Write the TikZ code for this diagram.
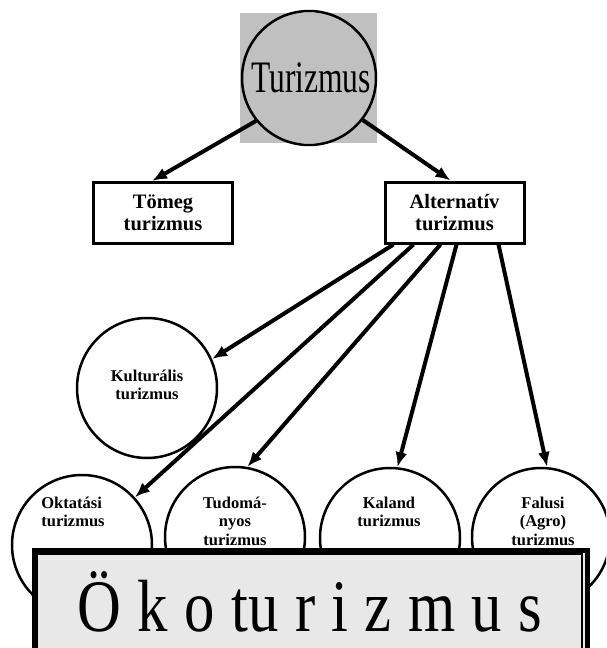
\documentclass[tikz,border=0pt]{standalone}
\usepackage{fontspec}
\setmainfont{Liberation Serif}
\usetikzlibrary{arrows.meta,calc}
\definecolor{sqgray}{HTML}{C0C0C0}
\definecolor{boxgray}{HTML}{E8E8E8}
\begin{document}
\begin{tikzpicture}[x=1pt,y=-1pt,
  circ/.style={circle,draw,line width=2.5pt,minimum size=140pt,inner sep=0pt,fill=white},
  lbl/.style={font=\fontsize{16.5}{18.5}\selectfont\bfseries,align=center,inner sep=0pt},
  rbox/.style={draw,line width=3pt,minimum width=139pt,minimum height=61pt,inner sep=0pt,align=center,font=\fontsize{20.5}{22}\selectfont\bfseries,fill=white},
  arr/.style={line width=4pt,-{Latex[length=15pt,width=12pt]}}]
\useasboundingbox (0,0) rectangle (606,648);
\clip (0,0) rectangle (606,648);
% top
\fill[sqgray] (240,13) rectangle (377,143);
\node[circle,draw,line width=2.5pt,minimum size=134pt,inner sep=0pt] (tur) at (309,78) {};
\node[anchor=base,inner sep=0pt] (turtxt) at (311,92) {\scalebox{0.7}[1]{\fontsize{45}{45}\selectfont Turizmus}};
% boxes
\node[rbox] (tomeg) at (163,213) {Tömeg\\turizmus};
\node[rbox] (alt) at (454.5,212.5) {Alternatív\\turizmus};
\draw[arr] (tur.219) -- ($(tomeg.north)+(-11,0)$);
\draw[arr] (tur.322) -- ($(alt.north)+(-4,0)$);
% circles
\node[circ] (kult) at (147,388) {};
\node[circ] (okt) at (82,545) {};
\node[circ] (tud) at (235,537) {};
\node[circ] (kal) at (390,538) {};
\node[circ,minimum size=138pt] (fal) at (541,537) {};
\coordinate (s1) at ($(alt.south west)+(10,0)$);
\coordinate (s2) at ($(alt.south west)+(30,0)$);
\coordinate (s3) at ($(alt.south west)+(57,0)$);
\coordinate (s4) at ($(alt.south west)+(73,0)$);
\coordinate (s5) at ($(alt.south west)+(115,0)$);
\draw[arr] (s1) -- (kult.24);
\draw[arr] (s2) -- (okt.42);
\draw[arr] (s3) -- (tud.80);
\draw[arr] (s4) -- (kal.84);
\draw[arr] (s5) -- (fal.85);
% circle labels
\node[lbl] (kulttxt) at (147,385) {Kulturális\\turizmus};
\node[lbl,align=left] (okttxt) at (73,512) {Oktatási\\turizmus};
\node[lbl] (tudtxt) at (235,521) {Tudomá-\\nyos\\turizmus};
\node[lbl] (kaltxt) at (389,512) {Kaland\\turizmus};
\node[lbl] (faltxt) at (543,521) {Falusi\\(Agro)\\turizmus};
% bottom box
\draw[line width=5pt,fill=boxgray] (34.5,550.5) rectangle (587.5,700);
\draw[line width=1.2pt] (37.5,554) rectangle (582,700);
\node[anchor=base,inner sep=0pt] (eko) at (310,631) {\scalebox{0.82}[1]{\fontsize{74}{74}\selectfont\spaceskip=20pt Ö k o tu r i z m u s}};
\end{tikzpicture}
\end{document}
